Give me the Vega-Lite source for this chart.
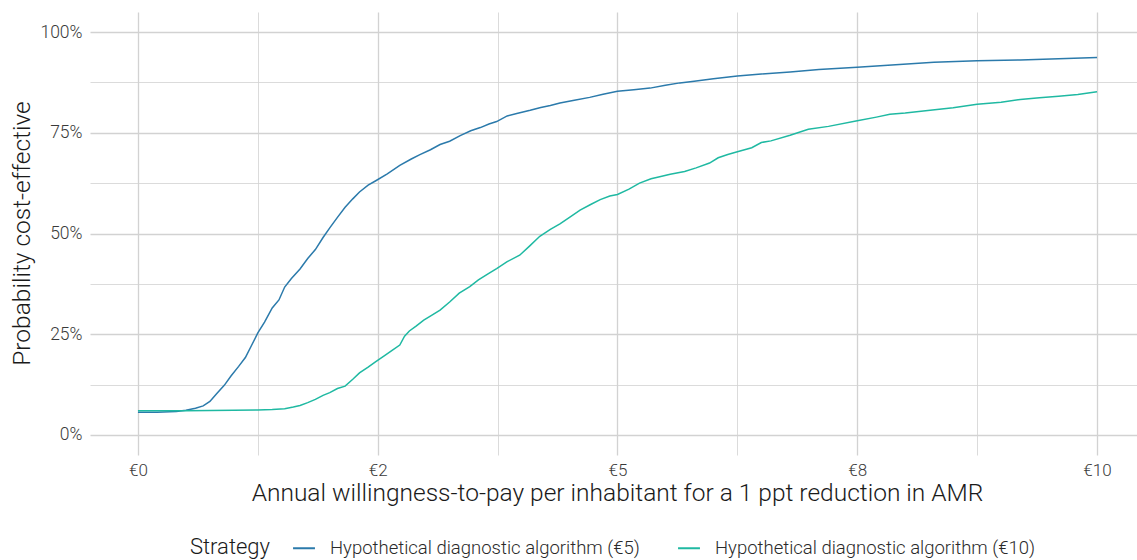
{
  "$schema": "https://vega.github.io/schema/vega-lite/v6.json",
  "width": 1047,
  "height": 443,
  "autosize": {"type": "none"},
  "padding": {"left": 90, "top": 12, "right": 0, "bottom": 105},
  "background": "white",
  "config": {
    "view": {"stroke": null},
    "font": "Roboto",
    "text": {"font": "Roboto"}
  },
  "data": {"values": [
    {"s":"Hypothetical diagnostic algorithm (€5)","x":0,"y":5.6},
    {"s":"Hypothetical diagnostic algorithm (€5)","x":0.2,"y":5.6},
    {"s":"Hypothetical diagnostic algorithm (€5)","x":0.4,"y":5.8},
    {"s":"Hypothetical diagnostic algorithm (€5)","x":0.5,"y":6.1},
    {"s":"Hypothetical diagnostic algorithm (€5)","x":0.6,"y":6.6},
    {"s":"Hypothetical diagnostic algorithm (€5)","x":0.68,"y":7.2},
    {"s":"Hypothetical diagnostic algorithm (€5)","x":0.75,"y":8.3},
    {"s":"Hypothetical diagnostic algorithm (€5)","x":0.82,"y":10.2},
    {"s":"Hypothetical diagnostic algorithm (€5)","x":0.9,"y":12.3},
    {"s":"Hypothetical diagnostic algorithm (€5)","x":0.97,"y":14.6},
    {"s":"Hypothetical diagnostic algorithm (€5)","x":1.05,"y":17.0},
    {"s":"Hypothetical diagnostic algorithm (€5)","x":1.12,"y":19.2},
    {"s":"Hypothetical diagnostic algorithm (€5)","x":1.18,"y":22.0},
    {"s":"Hypothetical diagnostic algorithm (€5)","x":1.25,"y":25.3},
    {"s":"Hypothetical diagnostic algorithm (€5)","x":1.32,"y":28.0},
    {"s":"Hypothetical diagnostic algorithm (€5)","x":1.4,"y":31.5},
    {"s":"Hypothetical diagnostic algorithm (€5)","x":1.47,"y":33.5},
    {"s":"Hypothetical diagnostic algorithm (€5)","x":1.53,"y":36.7},
    {"s":"Hypothetical diagnostic algorithm (€5)","x":1.6,"y":38.8},
    {"s":"Hypothetical diagnostic algorithm (€5)","x":1.69,"y":41.2},
    {"s":"Hypothetical diagnostic algorithm (€5)","x":1.77,"y":43.8},
    {"s":"Hypothetical diagnostic algorithm (€5)","x":1.85,"y":46.0},
    {"s":"Hypothetical diagnostic algorithm (€5)","x":1.93,"y":49.0},
    {"s":"Hypothetical diagnostic algorithm (€5)","x":2.0,"y":51.4},
    {"s":"Hypothetical diagnostic algorithm (€5)","x":2.08,"y":54.0},
    {"s":"Hypothetical diagnostic algorithm (€5)","x":2.16,"y":56.5},
    {"s":"Hypothetical diagnostic algorithm (€5)","x":2.24,"y":58.6},
    {"s":"Hypothetical diagnostic algorithm (€5)","x":2.31,"y":60.3},
    {"s":"Hypothetical diagnostic algorithm (€5)","x":2.4,"y":62.0},
    {"s":"Hypothetical diagnostic algorithm (€5)","x":2.48,"y":63.1},
    {"s":"Hypothetical diagnostic algorithm (€5)","x":2.6,"y":64.8},
    {"s":"Hypothetical diagnostic algorithm (€5)","x":2.73,"y":66.9},
    {"s":"Hypothetical diagnostic algorithm (€5)","x":2.85,"y":68.5},
    {"s":"Hypothetical diagnostic algorithm (€5)","x":2.94,"y":69.6},
    {"s":"Hypothetical diagnostic algorithm (€5)","x":3.05,"y":70.8},
    {"s":"Hypothetical diagnostic algorithm (€5)","x":3.15,"y":72.1},
    {"s":"Hypothetical diagnostic algorithm (€5)","x":3.25,"y":72.9},
    {"s":"Hypothetical diagnostic algorithm (€5)","x":3.36,"y":74.3},
    {"s":"Hypothetical diagnostic algorithm (€5)","x":3.47,"y":75.5},
    {"s":"Hypothetical diagnostic algorithm (€5)","x":3.57,"y":76.3},
    {"s":"Hypothetical diagnostic algorithm (€5)","x":3.66,"y":77.2},
    {"s":"Hypothetical diagnostic algorithm (€5)","x":3.74,"y":77.8},
    {"s":"Hypothetical diagnostic algorithm (€5)","x":3.85,"y":79.2},
    {"s":"Hypothetical diagnostic algorithm (€5)","x":3.95,"y":79.8},
    {"s":"Hypothetical diagnostic algorithm (€5)","x":4.09,"y":80.6},
    {"s":"Hypothetical diagnostic algorithm (€5)","x":4.2,"y":81.3},
    {"s":"Hypothetical diagnostic algorithm (€5)","x":4.3,"y":81.8},
    {"s":"Hypothetical diagnostic algorithm (€5)","x":4.4,"y":82.4},
    {"s":"Hypothetical diagnostic algorithm (€5)","x":4.55,"y":83.1},
    {"s":"Hypothetical diagnostic algorithm (€5)","x":4.71,"y":83.8},
    {"s":"Hypothetical diagnostic algorithm (€5)","x":4.85,"y":84.6},
    {"s":"Hypothetical diagnostic algorithm (€5)","x":5.0,"y":85.3},
    {"s":"Hypothetical diagnostic algorithm (€5)","x":5.17,"y":85.7},
    {"s":"Hypothetical diagnostic algorithm (€5)","x":5.34,"y":86.1},
    {"s":"Hypothetical diagnostic algorithm (€5)","x":5.5,"y":86.8},
    {"s":"Hypothetical diagnostic algorithm (€5)","x":5.65,"y":87.4},
    {"s":"Hypothetical diagnostic algorithm (€5)","x":5.8,"y":87.8},
    {"s":"Hypothetical diagnostic algorithm (€5)","x":6.0,"y":88.4},
    {"s":"Hypothetical diagnostic algorithm (€5)","x":6.25,"y":89.1},
    {"s":"Hypothetical diagnostic algorithm (€5)","x":6.5,"y":89.6},
    {"s":"Hypothetical diagnostic algorithm (€5)","x":6.8,"y":90.1},
    {"s":"Hypothetical diagnostic algorithm (€5)","x":7.1,"y":90.7},
    {"s":"Hypothetical diagnostic algorithm (€5)","x":7.5,"y":91.3},
    {"s":"Hypothetical diagnostic algorithm (€5)","x":7.9,"y":91.9},
    {"s":"Hypothetical diagnostic algorithm (€5)","x":8.3,"y":92.5},
    {"s":"Hypothetical diagnostic algorithm (€5)","x":8.75,"y":92.9},
    {"s":"Hypothetical diagnostic algorithm (€5)","x":9.2,"y":93.1},
    {"s":"Hypothetical diagnostic algorithm (€5)","x":9.6,"y":93.4},
    {"s":"Hypothetical diagnostic algorithm (€5)","x":10.0,"y":93.7},
    {"s":"Hypothetical diagnostic algorithm (€10)","x":0,"y":6.0},
    {"s":"Hypothetical diagnostic algorithm (€10)","x":0.5,"y":6.0},
    {"s":"Hypothetical diagnostic algorithm (€10)","x":1.0,"y":6.1},
    {"s":"Hypothetical diagnostic algorithm (€10)","x":1.25,"y":6.2},
    {"s":"Hypothetical diagnostic algorithm (€10)","x":1.4,"y":6.3},
    {"s":"Hypothetical diagnostic algorithm (€10)","x":1.53,"y":6.5},
    {"s":"Hypothetical diagnostic algorithm (€10)","x":1.62,"y":6.9},
    {"s":"Hypothetical diagnostic algorithm (€10)","x":1.69,"y":7.3},
    {"s":"Hypothetical diagnostic algorithm (€10)","x":1.77,"y":8.0},
    {"s":"Hypothetical diagnostic algorithm (€10)","x":1.85,"y":8.8},
    {"s":"Hypothetical diagnostic algorithm (€10)","x":1.93,"y":9.8},
    {"s":"Hypothetical diagnostic algorithm (€10)","x":2.0,"y":10.5},
    {"s":"Hypothetical diagnostic algorithm (€10)","x":2.08,"y":11.5},
    {"s":"Hypothetical diagnostic algorithm (€10)","x":2.16,"y":12.1},
    {"s":"Hypothetical diagnostic algorithm (€10)","x":2.24,"y":13.8},
    {"s":"Hypothetical diagnostic algorithm (€10)","x":2.31,"y":15.4},
    {"s":"Hypothetical diagnostic algorithm (€10)","x":2.4,"y":16.8},
    {"s":"Hypothetical diagnostic algorithm (€10)","x":2.48,"y":18.2},
    {"s":"Hypothetical diagnostic algorithm (€10)","x":2.56,"y":19.5},
    {"s":"Hypothetical diagnostic algorithm (€10)","x":2.65,"y":21.0},
    {"s":"Hypothetical diagnostic algorithm (€10)","x":2.73,"y":22.3},
    {"s":"Hypothetical diagnostic algorithm (€10)","x":2.78,"y":24.5},
    {"s":"Hypothetical diagnostic algorithm (€10)","x":2.83,"y":25.8},
    {"s":"Hypothetical diagnostic algorithm (€10)","x":2.9,"y":27.0},
    {"s":"Hypothetical diagnostic algorithm (€10)","x":2.98,"y":28.5},
    {"s":"Hypothetical diagnostic algorithm (€10)","x":3.07,"y":29.8},
    {"s":"Hypothetical diagnostic algorithm (€10)","x":3.15,"y":31.0},
    {"s":"Hypothetical diagnostic algorithm (€10)","x":3.25,"y":33.0},
    {"s":"Hypothetical diagnostic algorithm (€10)","x":3.35,"y":35.2},
    {"s":"Hypothetical diagnostic algorithm (€10)","x":3.46,"y":36.8},
    {"s":"Hypothetical diagnostic algorithm (€10)","x":3.55,"y":38.5},
    {"s":"Hypothetical diagnostic algorithm (€10)","x":3.65,"y":40.0},
    {"s":"Hypothetical diagnostic algorithm (€10)","x":3.74,"y":41.3},
    {"s":"Hypothetical diagnostic algorithm (€10)","x":3.85,"y":43.0},
    {"s":"Hypothetical diagnostic algorithm (€10)","x":3.98,"y":44.6},
    {"s":"Hypothetical diagnostic algorithm (€10)","x":4.08,"y":46.8},
    {"s":"Hypothetical diagnostic algorithm (€10)","x":4.19,"y":49.3},
    {"s":"Hypothetical diagnostic algorithm (€10)","x":4.3,"y":51.0},
    {"s":"Hypothetical diagnostic algorithm (€10)","x":4.4,"y":52.4},
    {"s":"Hypothetical diagnostic algorithm (€10)","x":4.5,"y":54.0},
    {"s":"Hypothetical diagnostic algorithm (€10)","x":4.61,"y":55.8},
    {"s":"Hypothetical diagnostic algorithm (€10)","x":4.72,"y":57.2},
    {"s":"Hypothetical diagnostic algorithm (€10)","x":4.82,"y":58.4},
    {"s":"Hypothetical diagnostic algorithm (€10)","x":4.92,"y":59.3},
    {"s":"Hypothetical diagnostic algorithm (€10)","x":5.0,"y":59.7},
    {"s":"Hypothetical diagnostic algorithm (€10)","x":5.12,"y":61.0},
    {"s":"Hypothetical diagnostic algorithm (€10)","x":5.23,"y":62.5},
    {"s":"Hypothetical diagnostic algorithm (€10)","x":5.35,"y":63.6},
    {"s":"Hypothetical diagnostic algorithm (€10)","x":5.44,"y":64.1},
    {"s":"Hypothetical diagnostic algorithm (€10)","x":5.55,"y":64.7},
    {"s":"Hypothetical diagnostic algorithm (€10)","x":5.7,"y":65.4},
    {"s":"Hypothetical diagnostic algorithm (€10)","x":5.82,"y":66.3},
    {"s":"Hypothetical diagnostic algorithm (€10)","x":5.96,"y":67.5},
    {"s":"Hypothetical diagnostic algorithm (€10)","x":6.05,"y":68.8},
    {"s":"Hypothetical diagnostic algorithm (€10)","x":6.15,"y":69.6},
    {"s":"Hypothetical diagnostic algorithm (€10)","x":6.25,"y":70.3},
    {"s":"Hypothetical diagnostic algorithm (€10)","x":6.4,"y":71.3},
    {"s":"Hypothetical diagnostic algorithm (€10)","x":6.5,"y":72.6},
    {"s":"Hypothetical diagnostic algorithm (€10)","x":6.6,"y":73.0},
    {"s":"Hypothetical diagnostic algorithm (€10)","x":6.8,"y":74.4},
    {"s":"Hypothetical diagnostic algorithm (€10)","x":6.99,"y":75.9},
    {"s":"Hypothetical diagnostic algorithm (€10)","x":7.2,"y":76.6},
    {"s":"Hypothetical diagnostic algorithm (€10)","x":7.5,"y":78.0},
    {"s":"Hypothetical diagnostic algorithm (€10)","x":7.7,"y":78.9},
    {"s":"Hypothetical diagnostic algorithm (€10)","x":7.84,"y":79.6},
    {"s":"Hypothetical diagnostic algorithm (€10)","x":8.0,"y":79.9},
    {"s":"Hypothetical diagnostic algorithm (€10)","x":8.26,"y":80.6},
    {"s":"Hypothetical diagnostic algorithm (€10)","x":8.5,"y":81.2},
    {"s":"Hypothetical diagnostic algorithm (€10)","x":8.75,"y":82.1},
    {"s":"Hypothetical diagnostic algorithm (€10)","x":9.0,"y":82.6},
    {"s":"Hypothetical diagnostic algorithm (€10)","x":9.2,"y":83.3},
    {"s":"Hypothetical diagnostic algorithm (€10)","x":9.4,"y":83.7},
    {"s":"Hypothetical diagnostic algorithm (€10)","x":9.6,"y":84.1},
    {"s":"Hypothetical diagnostic algorithm (€10)","x":9.8,"y":84.5},
    {"s":"Hypothetical diagnostic algorithm (€10)","x":10.0,"y":85.2}
  ]},
  "mark": {"type": "line", "strokeWidth": 1.5, "clip": true},
  "encoding": {
    "x": {
      "field": "x", "type": "quantitative",
      "scale": {"domain": [-0.5, 10.417], "nice": false, "zero": false},
      "axis": {
        "title": "Annual willingness-to-pay per inhabitant for a 1 ppt reduction in AMR",
        "values": [0, 1.25, 2.5, 3.75, 5, 6.25, 7.5, 8.75, 10],
        "labelExpr": "datum.value === 0 ? '€0' : datum.value === 2.5 ? '€2' : datum.value === 5 ? '€5' : datum.value === 7.5 ? '€8' : datum.value === 10 ? '€10' : ''",
        "domain": false, "ticks": false, "labelPadding": 7,
        "labelFontSize": 17, "labelFont": "Roboto", "labelFontWeight": 300, "labelColor": "#3a3a3a",
        "titleFontSize": 24.5, "titleFont": "Roboto", "titleFontWeight": 300, "titleColor": "#1a1a1a",
        "titleX": 527, "titleY": 38, "titleAnchor": null, "titleAlign": "center", "titleBaseline": "middle",
        "grid": true,
        "gridColor": "#d2d2d2",
        "gridWidth": {"condition": {"test": "datum.value % 2.5 === 0", "value": 1.3}, "value": 0.8},
        "labelOverlap": false
      }
    },
    "y": {
      "field": "y", "type": "quantitative",
      "scale": {"domain": [-5, 105], "nice": false, "zero": false},
      "axis": {
        "title": "Probability cost-effective",
        "values": [0, 12.5, 25, 37.5, 50, 62.5, 75, 87.5, 100],
        "labelExpr": "datum.value % 25 === 0 ? datum.value + '%' : ''",
        "domain": false, "ticks": false, "labelPadding": 8,
        "labelFontSize": 17.5, "labelFont": "Roboto", "labelFontWeight": 300, "labelColor": "#3a3a3a",
        "titleFontSize": 24.5, "titleFont": "Roboto", "titleFontWeight": 300, "titleColor": "#1a1a1a",
        "titleX": -68, "titleY": 221, "titleAngle": -90, "titleAlign": "center", "titleBaseline": "middle",
        "grid": true,
        "gridColor": "#d2d2d2",
        "gridWidth": {"condition": {"test": "datum.value % 25 === 0", "value": 1.3}, "value": 0.8},
        "labelOverlap": false
      }
    },
    "color": {
      "field": "s", "type": "nominal",
      "scale": {
        "domain": ["Hypothetical diagnostic algorithm (€5)", "Hypothetical diagnostic algorithm (€10)"],
        "range": ["#2b7aab", "#1fb9a2"]
      },
      "legend": {
        "title": "Strategy",
        "orient": "none",
        "direction": "horizontal",
        "legendX": 100,
        "legendY": 524,
        "titleOrient": "left",
        "titleFontSize": 22, "titleFont": "Roboto", "titleFontWeight": 300, "titleColor": "#1a1a1a",
        "titlePadding": 21, "titleBaseline": "middle",
        "labelFontSize": 18.5, "labelFont": "Roboto", "labelFontWeight": 300, "labelColor": "#2a2a2a",
        "labelLimit": 0,
        "symbolType": "stroke", "symbolSize": 480, "symbolStrokeWidth": 2,
        "labelOffset": 14, "columnPadding": 34
      }
    }
  }
}
